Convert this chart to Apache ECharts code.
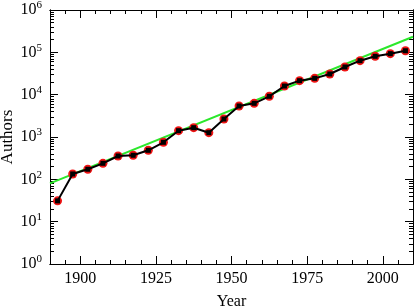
<!DOCTYPE html>
<html><head><meta charset="utf-8">
<script src="https://cdn.jsdelivr.net/npm/echarts@6/dist/echarts.min.js"></script>
<style>html,body{margin:0;padding:0;background:#fff}#c{width:415px;height:307px}</style>
</head><body><div id="c"></div>
<script>
const years = [1892.5, 1897.5, 1902.5, 1907.5, 1912.5, 1917.5, 1922.5, 1927.5, 1932.5, 1937.5, 1942.5, 1947.5,
  1952.5, 1957.5, 1962.5, 1967.5, 1972.5, 1977.5, 1982.5, 1987.5, 1992.5, 1997.5, 2002.5, 2007.5];
const authors = [31, 134, 173, 239, 356, 370, 485, 750, 1410, 1660, 1265, 2660,
  5400, 6250, 9150, 16000, 21400, 24300, 30800, 45100, 63500, 80600, 93000, 109000];
const fitYears = [1890, 2010];
const fitAuthors = [80.5, 234000];
const xMajor = [1900, 1925, 1950, 1975, 2000];
const xMinor = [1895, 1905, 1910, 1915, 1920, 1930, 1935, 1940, 1945, 1955, 1960, 1965, 1970, 1980, 1985, 1990, 1995, 2005];
const yMajor = [1, 10, 100, 1000, 10000, 100000, 1000000];
const yMinor = [];
[1, 10, 100, 1000, 10000, 100000].forEach(d => [2,3,4,5,6,7,8,9].forEach(m => yMinor.push(d*m)));

const FONT = 'Liberation Serif';
const line = {show:true, lineStyle:{color:'#000', width:1}};
function xAx(pos, ticks, len, labels) {
  return {type:'value', min:1890, max:2010, position:pos, axisLine:line, splitLine:{show:false},
    axisTick:{show:true, inside:true, length:len, customValues:ticks, lineStyle:{color:'#000', width:1}},
    axisLabel:labels ? {show:true, customValues:ticks, color:'#000', fontFamily:FONT, fontSize:16, margin:7,
      formatter: v => String(v)} : {show:false}};
}
function yAx(pos, ticks, len, labels) {
  return {type:'log', logBase:10, min:1, max:1000000, position:pos, axisLine:line, splitLine:{show:false},
    axisTick:{show:true, inside:true, length:len, customValues:ticks, lineStyle:{color:'#000', width:1}},
    axisLabel:labels ? {show:true, customValues:ticks, margin:8,
      formatter: v => '{b|10}{s|' + Math.round(Math.log10(v)) + '}',
      rich:{b:{fontFamily:FONT, fontSize:16, color:'#000'}, s:{fontFamily:FONT, fontSize:11, color:'#000', padding:[0,0,9,0]}}} : {show:false}};
}
const xa = [xAx('bottom', xMajor, 8, true), xAx('bottom', xMinor, 4, false), xAx('top', xMajor, 8, false), xAx('top', xMinor, 4, false)];
xa[0].name = 'Year'; xa[0].nameLocation = 'middle'; xa[0].nameGap = 30;
xa[0].nameTextStyle = {fontFamily:FONT, fontSize:16, color:'#000'};
const ya = [yAx('left', yMajor, 8, true), yAx('left', yMinor, 4, false), yAx('right', yMajor, 8, false), yAx('right', yMinor, 4, false)];
ya[0].name = 'Authors'; ya[0].nameLocation = 'middle'; ya[0].nameGap = 34; ya[0].nameMoveOverlap = false;
ya[0].nameTextStyle = {fontFamily:FONT, fontSize:17, color:'#000'};

const chart = echarts.init(document.getElementById('c'), null, {renderer:'canvas'});
chart.setOption({
  animation:false,
  grid:{left:50, right:2, top:10, bottom:43, containLabel:false, outerBoundsMode:'none'},
  xAxis:xa, yAxis:ya,
  series:[
    {type:'line', data:fitYears.map((y,i)=>[y, fitAuthors[i]]), showSymbol:false, symbol:'none',
      lineStyle:{color:'#2be82b', width:2}, z:1},
    {type:'line', data:years.map((y,i)=>[y, authors[i]]), symbol:'circle', symbolSize:9,
      itemStyle:{color:'#f01414'}, lineStyle:{width:0, opacity:0}, z:2},
    {type:'line', data:years.map((y,i)=>[y, authors[i]]), symbol:'rect', symbolSize:5,
      itemStyle:{color:'#000'}, lineStyle:{color:'#000', width:2}, z:3}
  ]
});
</script></body></html>
